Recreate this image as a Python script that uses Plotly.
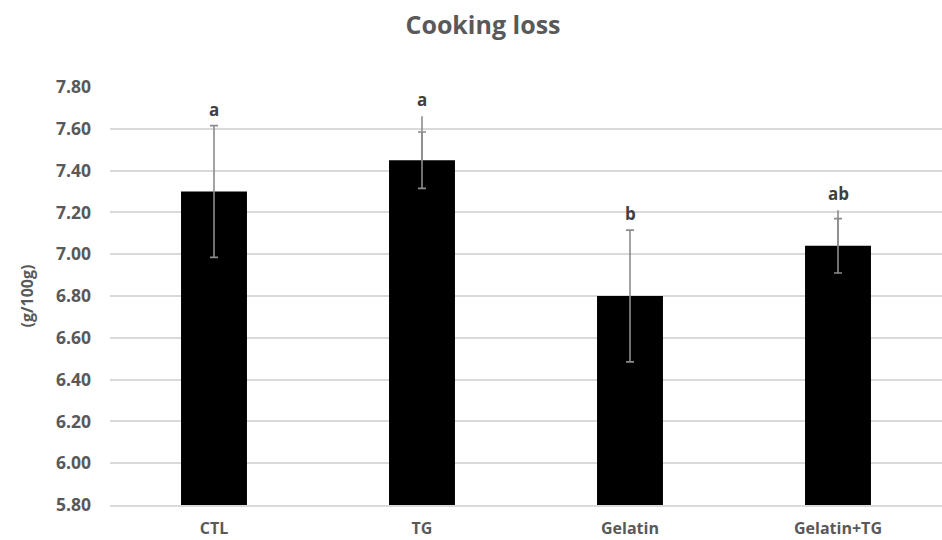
import plotly.graph_objects as go

# Cooking loss per treatment (g/100g)
categories = ["CTL", "TG", "Gelatin", "Gelatin+TG"]
means = [7.30, 7.45, 6.80, 7.04]
std_err = [0.315, 0.135, 0.315, 0.13]
upper_whisker = [0.0, 0.21, 0.0, 0.17]   # extra upward whisker without cap
letters = ["a", "a", "b", "ab"]

grey_text = "#595959"
font_family = "'Open Sans', Lato, sans-serif"

fig = go.Figure()

fig.add_trace(go.Bar(
    x=categories,
    y=means,
    marker=dict(color="black", line=dict(width=0)),
    error_y=dict(type="data", array=std_err, symmetric=True,
                 color="#8c8c8c", thickness=1.6, width=4),
    showlegend=False,
))

fig.add_trace(go.Scatter(
    x=categories,
    y=means,
    mode="markers",
    marker=dict(opacity=0, size=1),
    error_y=dict(type="data", symmetric=False, array=upper_whisker,
                 arrayminus=[0] * len(means), color="#8c8c8c",
                 thickness=1.6, width=0),
    showlegend=False,
    hoverinfo="skip",
))

# significance letters above each whisker
for cat, m, e, w, lab in zip(categories, means, std_err, upper_whisker, letters):
    top = m + max(e, w)
    fig.add_annotation(
        x=cat, y=top, text=f"<b>{lab}</b>", showarrow=False,
        yanchor="bottom", yshift=3,
        font=dict(family=font_family, size=17, color="#404040"),
    )

fig.update_layout(
    width=942, height=540,
    margin=dict(l=110, r=0, t=87, b=35),
    paper_bgcolor="white", plot_bgcolor="white",
    bargap=0.683,
    title=dict(text="<b>Cooking loss</b>", x=483 / 942, xanchor="center",
               y=1 - 25 / 540, yanchor="middle",
               font=dict(family=font_family, size=25, color=grey_text)),
    font=dict(family=font_family, color=grey_text),
)

fig.update_xaxes(
    showgrid=False, showline=True, linecolor="#d9d9d9", linewidth=1.5,
    ticks="", tickfont=dict(family=font_family, size=16, color=grey_text),
    ticklabelstandoff=8,
    tickprefix="<b>", ticksuffix="</b>",
)

fig.update_yaxes(
    range=[5.80, 7.80], dtick=0.20, tick0=5.80, tickformat=".2f",
    showgrid=True, gridcolor="#d9d9d9", gridwidth=1.5,
    zeroline=False, showline=False, ticks="",
    tickfont=dict(family=font_family, size=17.5, color=grey_text),
    tickprefix="<b>", ticksuffix="</b>",
    ticklabelstandoff=18,
    title=dict(text="<b>(g/100g)</b>", standoff=18,
               font=dict(family=font_family, size=16, color=grey_text)),
)

fig.write_html("out.html")
